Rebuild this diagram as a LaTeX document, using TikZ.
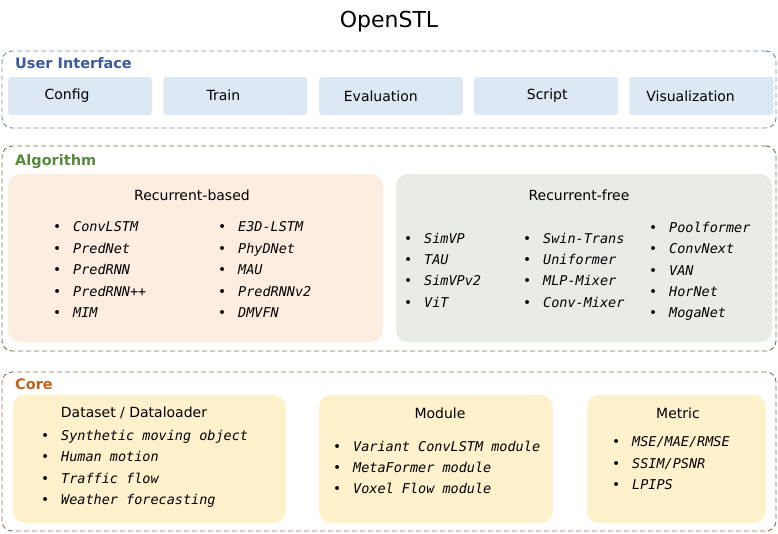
\documentclass[tikz,border=0pt]{standalone}
\usepackage{fontspec}
\setmainfont{DejaVu Sans}
\newfontfamily\itemfont{DejaVu Sans Mono}
\usetikzlibrary{positioning}
\definecolor{uiline}{HTML}{6F88A8}
\definecolor{uilabel}{HTML}{3B5A9C}
\definecolor{uifill}{HTML}{DCE8F4}
\definecolor{algline}{HTML}{5F7E48}
\definecolor{alglabel}{HTML}{5A8A3C}
\definecolor{rbfill}{HTML}{FCEDE0}
\definecolor{rffill}{HTML}{E8ECE4}
\definecolor{coreline}{HTML}{8E6A55}
\definecolor{corelabel}{HTML}{C0621F}
\definecolor{corefill}{HTML}{FFF1CC}
\tikzset{
  group/.style={draw,line width=0.9pt,dash pattern=on 5pt off 3pt,rounded corners=10pt,minimum width=774pt},
  grouplabel/.style={anchor=west,inner sep=0pt,font=\bfseries\fontsize{14.5}{18}\selectfont},
  uibox/.style={fill=uifill,rounded corners=3pt,minimum width=144pt,minimum height=38pt,inner sep=0pt},
  uitext/.style={font=\fontsize{14}{17}\selectfont},
  panel/.style={rounded corners=12pt,inner sep=0pt},
  head/.style={inner sep=0pt,font=\fontsize{14}{17}\selectfont},
  item/.style={anchor=west,inner sep=0pt,text height=10pt,text depth=3pt,
    font=\itemfont\itshape\fontsize{13.5}{16}\selectfont},
}
\newcommand{\bul}[1]{\makebox[20pt][l]{\upshape\textbullet}#1}
\begin{document}
\begin{tikzpicture}[x=1pt,y=-1pt]
\useasboundingbox (0,0) rectangle (778,533);
\node[font=\fontsize{22}{26}\selectfont] (title) at (389,22) {OpenSTL};
%
% user interface
\node[group,draw=uiline,minimum height=77pt] (ui) at (389,89.5) {};
\node[grouplabel,text=uilabel] (uilab) at (15,63) {User Interface};
\node[uibox,label={[uitext,xshift=-13pt]center:Config}] (config) at (80,96) {};
\node[uibox,right=11pt of config,label={[uitext,xshift=-12pt,yshift=1pt]center:Train}] (train) {};
\node[uibox,right=11pt of train,label={[uitext,xshift=-10pt]center:Evaluation}] (eval) {};
\node[uibox,right=11pt of eval,label={[uitext,xshift=1pt]center:Script}] (script) {};
\node[uibox,right=11pt of script,label={[uitext,xshift=-11pt]center:Visualization}] (vis) {};
%
% algorithm
\node[group,draw=algline,minimum height=205pt] (alg) at (389,248.5) {};
\node[grouplabel,text=alglabel] (alglab) at (15,161.5) {Algorithm};
\node[panel,fill=rbfill,minimum width=375pt,minimum height=168pt] (rb) at (195.5,258) {};
\node[panel,fill=rffill,minimum width=376pt,minimum height=168pt] (rf) at (584,258) {};
\node[head] (rbhead) at (192,195) {Recurrent-based};
\node[head] (rfhead) at (579,195) {Recurrent-free};
\foreach \t [count=\i] in {ConvLSTM,PredNet,PredRNN,PredRNN++,MIM}
  \node[item] (rba\i) at (53,228+21.5*\i-21.5) {\bul{\t}};
\foreach \t [count=\i] in {E3D-LSTM,PhyDNet,MAU,PredRNNv2,DMVFN}
  \node[item] (rbb\i) at (218,228+21.5*\i-21.5) {\bul{\t}};
\foreach \t [count=\i] in {SimVP,TAU,SimVPv2,ViT}
  \node[item] (rfa\i) at (404,240+21.2*\i-21.2) {\bul{\t}};
\foreach \t [count=\i] in {Swin-Trans,Uniformer,MLP-Mixer,Conv-Mixer}
  \node[item] (rfb\i) at (523,240+21.2*\i-21.2) {\bul{\t}};
\foreach \t [count=\i] in {Poolformer,ConvNext,VAN,HorNet,MogaNet}
  \node[item] (rfc\i) at (649,229+21.3*\i-21.3) {\bul{\t}};
%
% core
\node[group,draw=coreline,minimum height=159pt] (core) at (389,451.5) {};
\node[grouplabel,text=corelabel] (corelab) at (15,384.5) {Core};
\node[panel,fill=corefill,minimum width=273pt,minimum height=128pt] (data) at (149.5,459) {};
\node[panel,fill=corefill,minimum width=234pt,minimum height=128pt] (module) at (436,459) {};
\node[panel,fill=corefill,minimum width=179pt,minimum height=128pt] (metric) at (676.5,459) {};
\node[head] (datahead) at (134,413) {Dataset / Dataloader};
\node[head] (modhead) at (440,413) {Module};
\node[head] (methead) at (678,413) {Metric};
\foreach \t [count=\i] in {Synthetic moving object,Human motion,Traffic flow,Weather forecasting}
  \node[item] (da\i) at (41,437+21.3*\i-21.3) {\bul{\t}};
\foreach \t [count=\i] in {Variant ConvLSTM module,MetaFormer module,Voxel Flow module}
  \node[item] (mo\i) at (333,448+21*\i-21) {\bul{\t}};
\foreach \t [count=\i] in {MSE/MAE/RMSE,SSIM/PSNR,LPIPS}
  \node[item] (me\i) at (612,443+21.5*\i-21.5) {\bul{\t}};
\end{tikzpicture}
\end{document}
